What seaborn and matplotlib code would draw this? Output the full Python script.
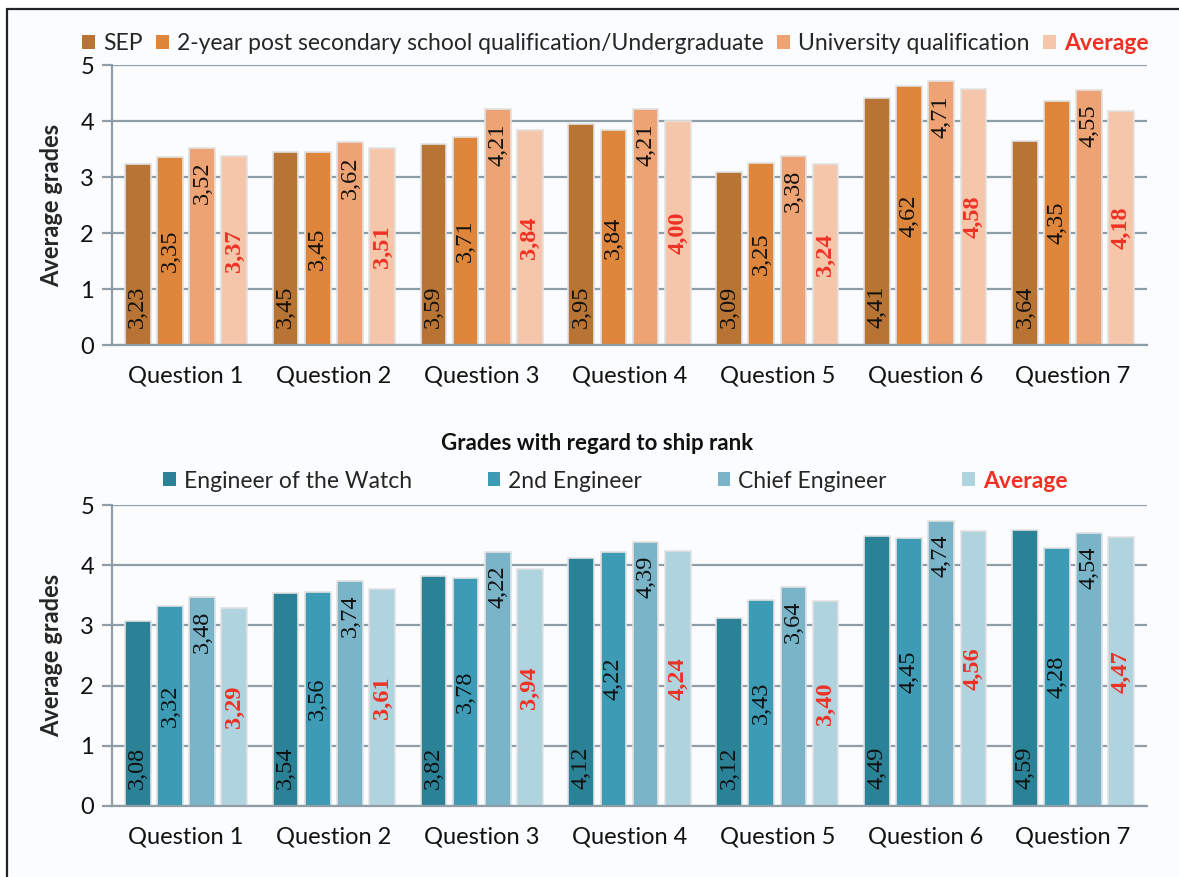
import matplotlib
matplotlib.use("Agg")
import matplotlib.pyplot as plt
import seaborn as sns
import pandas as pd
from matplotlib.lines import Line2D
from matplotlib.patches import Patch

questions = ["Question 1", "Question 2", "Question 3", "Question 4",
             "Question 5", "Question 6", "Question 7"]

top_series = ["SEP", "2-year post secondary school qualification/Undergraduate",
              "University qualification", "Average"]
top_sep = [3.23, 3.45, 3.59, 3.95, 3.09, 4.41, 3.64]
top_2y = [3.35, 3.45, 3.71, 3.84, 3.25, 4.62, 4.35]
top_uni = [3.52, 3.62, 4.21, 4.21, 3.38, 4.71, 4.55]
top_avg = [3.37, 3.51, 3.84, 4.00, 3.24, 4.58, 4.18]

bot_title = "Grades with regard to ship rank"
bot_series = ["Engineer of the Watch", "2nd Engineer", "Chief Engineer", "Average"]
bot_eow = [3.08, 3.54, 3.82, 4.12, 3.12, 4.49, 4.59]
bot_2nd = [3.32, 3.56, 3.78, 4.22, 3.43, 4.45, 4.28]
bot_chief = [3.48, 3.74, 4.22, 4.39, 3.64, 4.74, 4.54]
bot_avg = [3.29, 3.61, 3.94, 4.24, 3.40, 4.56, 4.47]

top_colors = ["#b87434", "#de873c", "#eda374", "#f6c6ab"]
bot_colors = ["#2b8297", "#3d9bb5", "#79b4c9", "#afd4df"]

RED = "#ee3124"
GRID = "#8f9da6"
BG = "#fbfcfe"

sns.set_theme(style="white")
plt.rcParams["font.family"] = ["Lato", "DejaVu Sans"]

W, H = 1179, 877
fig = plt.figure(figsize=(W / 100, H / 100), dpi=100, facecolor="white")
fig.patches.append(plt.Rectangle((7 / W, 0), 1, 1 - 9 / H, transform=fig.transFigure,
                                 facecolor=BG, edgecolor="none", zorder=-10))
fig.add_artist(Line2D([7 / W, 1], [1 - 9 / H, 1 - 9 / H], transform=fig.transFigure,
                      color="#222222", lw=1.6))
fig.add_artist(Line2D([7 / W, 7 / W], [0, 1 - 9 / H], transform=fig.transFigure,
                      color="#222222", lw=1.6))


def make_df(series, arrays):
    rows = []
    for s, arr in zip(series, arrays):
        for q, v in zip(questions, arr):
            rows.append({"Question": q, "Series": s, "Value": v})
    return pd.DataFrame(rows)


def draw(ax, df, series, colors):
    ax.set_facecolor(BG)
    sns.barplot(data=df, x="Question", y="Value", hue="Series", hue_order=series,
                order=questions, palette=colors, width=0.87, gap=0.2,
                edgecolor="#e2e2e2", linewidth=1.2, saturation=1, ax=ax,
                legend=False, errorbar=None)
    ax.set_ylim(0, 5)
    ax.set_xlim(-0.5, 6.5)
    ax.set_yticks([0, 1, 2, 3, 4, 5])
    ax.set_axisbelow(True)
    ax.yaxis.grid(True, color=GRID, lw=1.6)
    for sp in ["top", "right"]:
        ax.spines[sp].set_visible(False)
    for sp in ["left", "bottom"]:
        ax.spines[sp].set_color(GRID)
        ax.spines[sp].set_linewidth(1.6)
    ax.tick_params(axis="y", which="both", left=True, length=7, width=1.6,
                   color=GRID, labelsize=17, pad=6)
    ax.tick_params(axis="x", bottom=False, labelsize=17, pad=9)
    ax.set_xlabel("")
    ax.set_ylabel("Average grades", fontsize=17, fontweight="bold", labelpad=12)
    for lab in ax.get_xticklabels() + ax.get_yticklabels():
        lab.set_color("#111111")

    serif = ["Liberation Serif", "DejaVu Serif"]
    for i, cont in enumerate(ax.containers):
        for bar in cont:
            h = bar.get_height()
            x = bar.get_x() + bar.get_width() / 2
            txt = f"{h:.2f}".replace(".", ",")
            kw = dict(rotation=90, ha="center", fontsize=17.5, family=serif,
                      color="#111111", textcoords="offset points")
            if i == 0:
                ax.annotate(txt, (x, 0), xytext=(0, 12), va="bottom", **kw)
            elif i == 2:
                ax.annotate(txt, (x, h), xytext=(0, -10), va="top", **kw)
            elif i == 1:
                ax.annotate(txt, (x, h / 2), xytext=(0, 0), va="center", **kw)
            else:
                kw["color"] = RED
                ax.annotate(txt, (x, h / 2), xytext=(0, 0), va="center",
                            fontweight="bold", **kw)


def legend(series, colors, y, colspacing):
    handles = [Patch(facecolor=c, edgecolor="none") for c in colors]
    leg = fig.legend(handles, series, loc="center", bbox_to_anchor=(0.522, y),
                     ncol=4, frameon=False, fontsize=16.5, handlelength=0.55,
                     handleheight=0.55, handletextpad=0.35, columnspacing=colspacing)
    t = leg.get_texts()[-1]
    t.set_color(RED)
    t.set_fontweight("bold")
    return leg


ax1 = fig.add_axes([112 / W, 1 - 345 / H, 1035 / W, 280 / H])
draw(ax1, make_df(top_series, [top_sep, top_2y, top_uni, top_avg]), top_series, top_colors)
legend(top_series, top_colors, 1 - 44 / H, 0.6)

ax2 = fig.add_axes([112 / W, 1 - 806 / H, 1035 / W, 301 / H])
draw(ax2, make_df(bot_series, [bot_eow, bot_2nd, bot_chief, bot_avg]), bot_series, bot_colors)
legend(bot_series, bot_colors, 1 - 481 / H, 3.3)
fig.text(0.506, 1 - 444 / H, bot_title, ha="center", va="center", fontsize=16,
         fontweight="bold", color="#111111")

fig.savefig("out.png", dpi=100, facecolor="white")
